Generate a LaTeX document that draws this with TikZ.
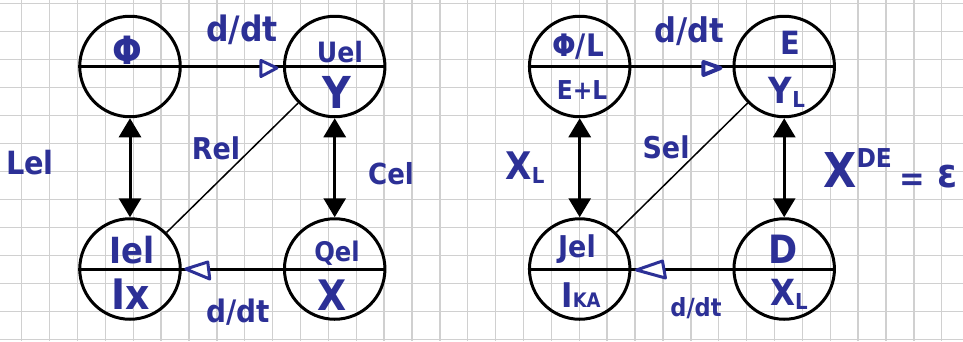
\documentclass[tikz,border=0pt]{standalone}
\usepackage{fontspec}
\setmainfont{DejaVu Sans Condensed}[BoldFont={DejaVu Sans Condensed Bold}]
\usetikzlibrary{arrows.meta,calc}
\definecolor{ink}{RGB}{44,48,150}
\definecolor{gridc}{RGB}{208,208,208}
\newcommand\lowsub[1]{\raisebox{-4pt}{\fontsize{22}{22}\selectfont #1}}
\newcommand\fs[1]{\fontsize{#1}{#1}\selectfont\bfseries}
\begin{document}
\begin{tikzpicture}[x=1pt,y=-1pt,
  circ/.style={circle, draw=black, line width=3pt, minimum size=100.5pt, inner sep=0pt},
  thickline/.style={line width=3pt, black},
  thinline/.style={line width=1.5pt, black},
  dblarrow/.style={line width=3pt, black, {Triangle[length=19pt,width=22pt]}-{Triangle[length=19pt,width=22pt]}},
  handtri/.style={draw=ink, fill=white, line width=3pt, line join=round},
  lbl/.style={text=ink, inner sep=0pt, font=\fs{30}},
  gridline/.style={line width=1.4pt, gridc}]
\useasboundingbox (0,0) rectangle (963,341);
\fill[white] (0,0) rectangle (963,341);
% grid paper
\foreach \k in {0,...,33} \draw[gridline] ({21.7+27.88*\k},0) -- ({21.7+27.88*\k},341);
\foreach \k in {0,...,12} \draw[gridline] (0,{3.3+28*\k}) -- (963,{3.3+28*\k});

% ---------- left diagram ----------
\node[circ] (phi) at (130,66.5) {};
\node[circ] (u)   at (334.7,66.5) {};
\node[circ] (i)   at (130,269) {};
\node[circ] (q)   at (334.7,269) {};
\draw[thickline] (phi.west) -- (u.east);
\draw[thickline] (i.west) -- (q.east);
\draw[handtri] ($(u.west)+(-6,1.5)$) -- ($(u.west)+(-22,-6)$) -- ($(u.west)+(-22,10)$) -- cycle;
\draw[handtri] ($(i.east)+(4,0)$) -- ($(i.east)+(26,-7)$) -- ($(i.east)+(28,10)$) -- cycle;
\draw[dblarrow] (phi.south) -- (i.north);
\draw[dblarrow] (u.south) -- (q.north);
\draw[thinline] (u.225) -- (i.45);

\node[lbl, font=\fs{39}] (tphi) at (127,50) {Φ};
\node[lbl, font=\fs{35}] (tddt1) at (242,30) {d/dt};
\node[lbl, font=\fs{28}] (tu) at (340,52) {Uel};
\node[lbl, font=\fs{44}] (ty) at (337,92) {Y};
\node[lbl, font=\fs{30}] (tr) at (216,148) {Rel};
\node[lbl, font=\fs{32}] (tl) at (30,163) {Lel};
\node[lbl, font=\fs{29}] (tc) at (391,174) {Cel};
\node[lbl, font=\fs{36}] (ti) at (132,250) {Iel};
\node[lbl, font=\fs{42}] (tix) at (131,294) {Ix};
\node[lbl, font=\fs{27}] (tq) at (337,253) {Qel};
\node[lbl, font=\fs{42}] (tx) at (332,295) {X};
\node[lbl, font=\fs{31}] (tddt2) at (238,312) {d/dt};

% ---------- right diagram ----------
\node[circ] (pl) at (579.7,66.5) {};
\node[circ] (e)  at (784.2,66.5) {};
\node[circ] (j)  at (579.7,269) {};
\node[circ] (d)  at (784.2,269) {};
\draw[thickline] (pl.west) -- (e.east);
\draw[thickline] (j.west) -- (d.east);
\draw[handtri, line width=4pt] ($(e.west)+(-12,1.5)$) -- ($(e.west)+(-29,-4.5)$) -- ($(e.west)+(-29,8.5)$) -- cycle;
\draw[handtri] ($(j.east)+(5,1)$) -- ($(j.east)+(31,-8)$) -- ($(j.east)+(34,9)$) -- cycle;
\draw[dblarrow] (pl.south) -- (j.north);
\draw[dblarrow] (e.south) -- (d.north);
\draw[thinline] (e.225) -- (j.45);

\node[lbl, font=\fs{31}] (tpl) at (578,47) {Φ/L};
\node[lbl, font=\fs{26}] (tel) at (582,90) {E+L};
\node[lbl, font=\fs{34}] (tddt3) at (689,31) {d/dt};
\node[lbl, font=\fs{32}] (te) at (790,43) {E};
\node[lbl, font=\fs{36}] (tyl) at (787,92) {Y\lowsub{L}};
\node[lbl, font=\fs{30}] (ts) at (666,147) {Sel};
\node[lbl, font=\fs{38}] (txl) at (525,168) {X\lowsub{L}};
\node[lbl, font=\fs{48}, anchor=base west] (txde) at (823,187) {X\raisebox{20pt}{\fs{26}DE}\hspace{8pt}\raisebox{-3pt}{\fs{34}=}\hspace{12pt}{\fs{40}ε}};
\node[lbl, font=\fs{30}] (tj) at (577,249) {Jel};
\node[lbl, font=\fs{34}] (tika) at (581,295) {I{\fs{20}KA}};
\node[lbl, font=\fs{39}] (td) at (783,249) {D};
\node[lbl, font=\fs{36}] (txl2) at (789,294) {X\lowsub{L}};
\node[lbl, font=\fs{25}] (tddt4) at (696,308) {d/dt};
\end{tikzpicture}
\end{document}
